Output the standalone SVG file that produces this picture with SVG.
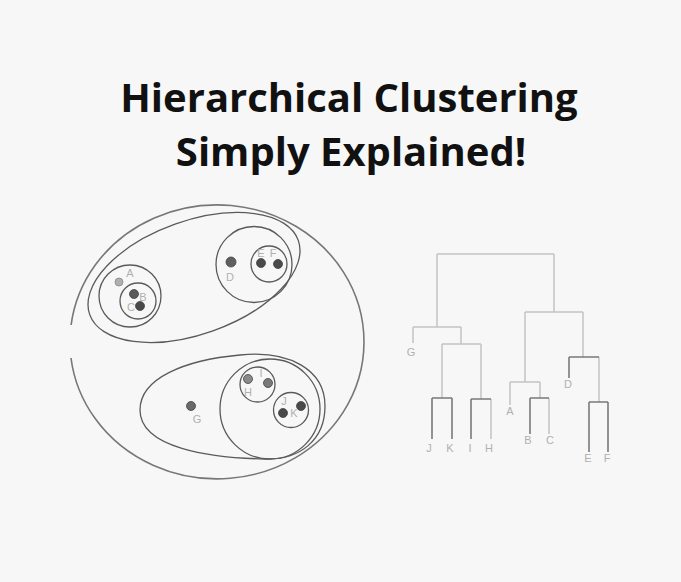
<svg xmlns="http://www.w3.org/2000/svg" width="681" height="582" viewBox="0 0 681 582">
<style>
.title{font-family:"Open Sans","Liberation Sans",sans-serif;font-weight:bold;font-size:40px;fill:#111;text-anchor:middle}
.lbl{font-family:"Liberation Sans","DejaVu Sans",sans-serif;font-size:11px;fill:#b0b0b0;text-anchor:middle}
.cl{fill:none;stroke:#5a5a5a;stroke-width:1.3}
.outer{fill:none;stroke:#777;stroke-width:1.6}
.dl{fill:none;stroke:#c4c4c4;stroke-width:1.5}
.dd{fill:none;stroke:#7a7a7a;stroke-width:1.6}
.dot{stroke:#444;stroke-width:0.8}
</style>
<rect width="681" height="582" fill="#f7f7f7"/>
<g id="title">
<text class="title" x="349" y="112">Hierarchical Clustering</text>
<text class="title" x="351" y="166">Simply Explained!</text>
</g>
<g id="cluster-all">
<path class="outer" d="M71.1 325 A147 137 0 1 1 71 358"/>
</g>
<g id="cluster-ABCDEF">
<ellipse class="cl" cx="194" cy="277.5" rx="110.7" ry="56.6" transform="rotate(-19.6 194 277.5)"/>
</g>
<g id="cluster-ABC">
<circle class="cl" cx="130" cy="296" r="31"/>
</g>
<g id="cluster-BC">
<circle class="cl" cx="138" cy="301" r="18"/>
</g>
<g id="node-A">
<circle cx="119" cy="282" r="4" fill="#b0b0b0" stroke="#888" stroke-width="0.8"/>
<text class="lbl" x="130" y="277">A</text>
</g>
<g id="node-B">
<circle class="dot" cx="134" cy="294" r="4.5" fill="#5a5a5a"/>
<text class="lbl" x="143" y="301">B</text>
</g>
<g id="node-C">
<circle class="dot" cx="140" cy="306" r="4.5" fill="#4a4a4a"/>
<text class="lbl" x="131" y="311">C</text>
</g>
<g id="cluster-DEF">
<circle class="cl" cx="254" cy="264.5" r="38"/>
</g>
<g id="cluster-EF">
<circle class="cl" cx="269" cy="264" r="18"/>
</g>
<g id="node-D">
<circle class="dot" cx="231" cy="262" r="5" fill="#5f5f5f"/>
<text class="lbl" x="230" y="281">D</text>
</g>
<g id="node-E">
<circle class="dot" cx="261" cy="263" r="4.5" fill="#4a4a4a"/>
<text class="lbl" x="261" y="257">E</text>
</g>
<g id="node-F">
<circle class="dot" cx="278" cy="264" r="4.5" fill="#4a4a4a"/>
<text class="lbl" x="273" y="257">F</text>
</g>
<g id="cluster-GHIJK">
<path class="cl" d="M140 410 C140 378 185 360 240 355 C290 350 325 370 325 406 C325 440 300 460 265 459 C210 458 140 448 140 410 Z"/>
</g>
<g id="node-G">
<circle class="dot" cx="191" cy="406" r="4.5" fill="#6a6a6a"/>
<text class="lbl" x="197" y="423">G</text>
</g>
<g id="cluster-HIJK">
<circle class="cl" cx="270" cy="409" r="50"/>
</g>
<g id="cluster-HI">
<circle class="cl" cx="257.5" cy="384.5" r="17.5"/>
</g>
<g id="cluster-JK">
<circle class="cl" cx="291" cy="410" r="17.5"/>
</g>
<g id="node-H">
<circle class="dot" cx="248" cy="379" r="4.5" fill="#8a8a8a"/>
<text class="lbl" x="248" y="396">H</text>
</g>
<g id="node-I">
<circle class="dot" cx="268" cy="383" r="4.5" fill="#7a7a7a"/>
<text class="lbl" x="261" y="377">I</text>
</g>
<g id="node-J">
<circle class="dot" cx="283" cy="413" r="4.5" fill="#4a4a4a"/>
<text class="lbl" x="284" y="405">J</text>
</g>
<g id="node-K">
<circle class="dot" cx="301" cy="406" r="4.5" fill="#4a4a4a"/>
<text class="lbl" x="294" y="417">K</text>
</g>
<g id="connectors">
<path class="dl" d="M437 254 H554 M437 254 V327 M413 327 H461 M413 327 V343 M461 327 V344 M442 344 H481 M442 344 V398 M481 344 V399 M554 254 V312 M525 312 H583 M525 312 V382 M510 382 H540 M510 382 V405 M540 382 V398 M583 312 V357 M599 357 V402 M491 399 V439 M549 398 V434"/>
<path class="dd" d="M432 398 H452 M432 398 V439 M452 398 V439 M471 399 H491 M471 399 V439 M530 398 H549 M530 398 V434 M569 357 H599 M569 357 V378 M589 402 H608 M589 402 V452 M608 402 V452"/>
</g>
<g id="dendro-labels">
<text class="lbl" x="411" y="356">G</text>
<text class="lbl" x="429" y="452">J</text>
<text class="lbl" x="450" y="452">K</text>
<text class="lbl" x="470" y="452">I</text>
<text class="lbl" x="489" y="452">H</text>
<text class="lbl" x="510" y="415">A</text>
<text class="lbl" x="528" y="444">B</text>
<text class="lbl" x="550" y="444">C</text>
<text class="lbl" x="568" y="388">D</text>
<text class="lbl" x="588" y="462">E</text>
<text class="lbl" x="607" y="462">F</text>
</g>
</svg>
